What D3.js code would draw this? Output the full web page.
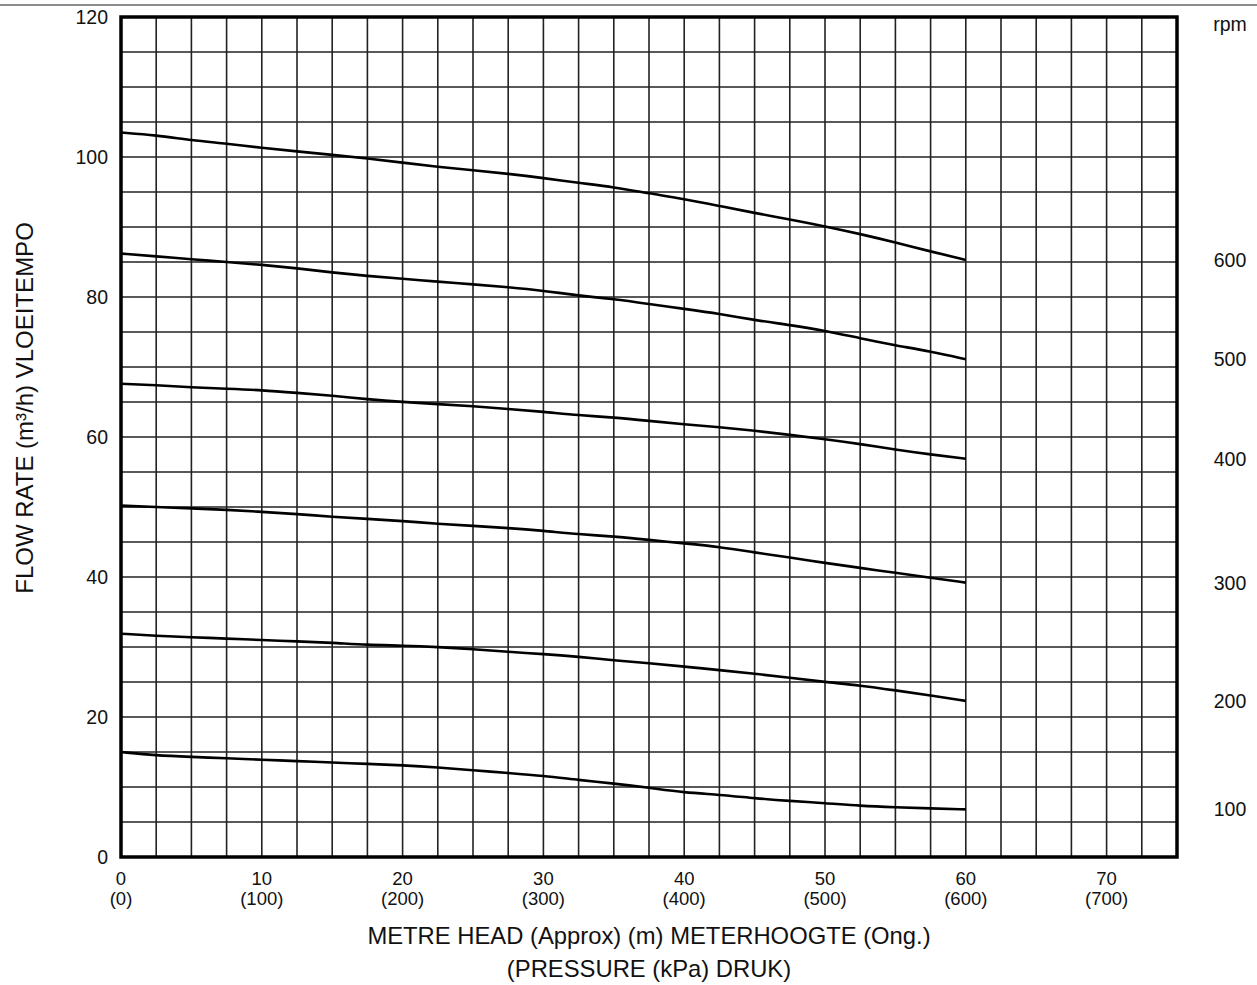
<!DOCTYPE html>
<html>
<head>
<meta charset="utf-8">
<script src="https://cdn.jsdelivr.net/npm/d3@7"></script>
<style>
    body { margin: 0; background: #fff; }
    text { font-family: "Liberation Sans", Arial, sans-serif; fill: #111; }
</style>
</head>
<body>
<div class="chart"></div>
<script>
// head in metres, sampled every 2.5 m
const head = [0, 2.5, 5, 7.5, 10, 12.5, 15, 17.5, 20, 22.5, 25, 27.5, 30,
    32.5, 35, 37.5, 40, 42.5, 45, 47.5, 50, 52.5, 55, 57.5, 60];

// flow rate (m3/h) per speed
const rpm600 = [103.5, 103.1, 102.4, 101.9, 101.3, 100.8, 100.3, 99.8, 99.2, 98.6, 98.1, 97.6, 97.0,
    96.3, 95.7, 94.8, 94.0, 93.0, 92.0, 91.1, 90.1, 89.0, 87.8, 86.5, 85.3];
const rpm500 = [86.2, 85.8, 85.4, 85.0, 84.6, 84.1, 83.5, 83.0, 82.6, 82.2, 81.8, 81.4, 80.9,
    80.2, 79.7, 79.0, 78.3, 77.6, 76.7, 76.0, 75.2, 74.1, 73.1, 72.2, 71.1];
const rpm400 = [67.6, 67.4, 67.1, 66.9, 66.7, 66.3, 65.9, 65.4, 65.0, 64.7, 64.4, 64.0, 63.6,
    63.1, 62.8, 62.3, 61.8, 61.4, 60.9, 60.3, 59.7, 59.0, 58.2, 57.5, 56.9];
const rpm300 = [50.2, 50.0, 49.8, 49.6, 49.3, 49.0, 48.6, 48.3, 48.0, 47.6, 47.3, 47.0, 46.6,
    46.1, 45.8, 45.3, 44.8, 44.3, 43.5, 42.8, 42.0, 41.3, 40.6, 39.9, 39.2];
const rpm200 = [31.9, 31.6, 31.4, 31.2, 31.0, 30.8, 30.6, 30.3, 30.2, 30.0, 29.7, 29.3, 29.0,
    28.6, 28.1, 27.7, 27.2, 26.7, 26.2, 25.6, 25.0, 24.5, 23.8, 23.1, 22.3];
const rpm100 = [15.0, 14.5, 14.3, 14.1, 13.9, 13.7, 13.5, 13.3, 13.1, 12.8, 12.4, 12.0, 11.6,
    11.0, 10.5, 9.9, 9.2, 8.9, 8.4, 8.0, 7.7, 7.3, 7.1, 6.95, 6.8];

const speedLabels = ['600', '500', '400', '300', '200', '100'];
const series = [rpm600, rpm500, rpm400, rpm300, rpm200, rpm100];

const headTicks = [0, 10, 20, 30, 40, 50, 60, 70];
const pressureTicks = ['(0)', '(100)', '(200)', '(300)', '(400)', '(500)', '(600)', '(700)'];
const flowTicks = [0, 20, 40, 60, 80, 100, 120];

const margin = { top: 17, right: 80, bottom: 128, left: 121 };
const fullWidth = 1257;
const fullHeight = 985;
const width = fullWidth - margin.left - margin.right;
const height = fullHeight - margin.top - margin.bottom;

const svg = d3.select('.chart')
    .append('svg')
        .attr('width', fullWidth)
        .attr('height', fullHeight);

// page rule along the top
svg.append('line')
    .attr('x1', 0).attr('x2', fullWidth)
    .attr('y1', 5).attr('y2', 5)
    .attr('stroke', '#666')
    .attr('stroke-width', 1.5);

const chart = svg.append('g')
    .attr('transform', `translate(${margin.left}, ${margin.top})`);

const xScale = d3.scaleLinear()
    .domain([0, 75])
    .range([0, width]);

const yScale = d3.scaleLinear()
    .domain([0, 120])
    .range([height, 0]);

// grid: every 2.5 m across, every 5 m3/h up
chart.append('g')
    .selectAll('line')
    .data(d3.range(2.5, 75, 2.5))
    .enter()
    .append('line')
        .attr('x1', d => xScale(d)).attr('x2', d => xScale(d))
        .attr('y1', 0).attr('y2', height)
        .attr('stroke', '#222')
        .attr('stroke-width', 1.6);

chart.append('g')
    .selectAll('line')
    .data(d3.range(5, 120, 5))
    .enter()
    .append('line')
        .attr('x1', 0).attr('x2', width)
        .attr('y1', d => yScale(d)).attr('y2', d => yScale(d))
        .attr('stroke', '#222')
        .attr('stroke-width', 1.6);

chart.append('rect')
    .attr('width', width)
    .attr('height', height)
    .attr('fill', 'none')
    .attr('stroke', '#000')
    .attr('stroke-width', 3.5);

// curves
const line = d3.line()
    .x((d, i) => xScale(head[i]))
    .y(d => yScale(d))
    .curve(d3.curveBasis);

chart.selectAll('path.curve')
    .data(series)
    .enter()
    .append('path')
        .attr('class', 'curve')
        .attr('d', line)
        .attr('fill', 'none')
        .attr('stroke', '#000')
        .attr('stroke-width', 2.6);

// left axis labels
chart.append('g')
    .selectAll('text')
    .data(flowTicks)
    .enter()
    .append('text')
        .attr('x', -13)
        .attr('y', d => yScale(d) + 7)
        .attr('text-anchor', 'end')
        .style('font-size', '19.5px')
        .text(d => d);

// bottom axis labels, two rows
const xLabels = chart.append('g')
    .attr('transform', `translate(0, ${height})`);

xLabels.selectAll('text.m')
    .data(headTicks)
    .enter()
    .append('text')
        .attr('class', 'm')
        .attr('x', d => xScale(d))
        .attr('y', 28)
        .attr('text-anchor', 'middle')
        .style('font-size', '18.5px')
        .text(d => d);

xLabels.selectAll('text.kpa')
    .data(headTicks)
    .enter()
    .append('text')
        .attr('class', 'kpa')
        .attr('x', d => xScale(d))
        .attr('y', 48)
        .attr('text-anchor', 'middle')
        .style('font-size', '18.5px')
        .text((d, i) => pressureTicks[i]);

// speed labels on the right, level with each curve end
chart.append('text')
    .attr('x', width + 53)
    .attr('y', 14)
    .attr('text-anchor', 'middle')
    .style('font-size', '19.5px')
    .text('rpm');

chart.append('g')
    .selectAll('text')
    .data(series)
    .enter()
    .append('text')
        .attr('x', width + 53)
        .attr('y', d => yScale(d[d.length - 1]) + 7)
        .attr('text-anchor', 'middle')
        .style('font-size', '19.5px')
        .text((d, i) => speedLabels[i]);

// axis titles
svg.append('text')
    .attr('x', 649)
    .attr('y', 944)
    .attr('text-anchor', 'middle')
    .style('font-size', '23.8px')
    .text('METRE HEAD (Approx) (m) METERHOOGTE (Ong.)');

svg.append('text')
    .attr('x', 649)
    .attr('y', 977)
    .attr('text-anchor', 'middle')
    .style('font-size', '23.8px')
    .text('(PRESSURE (kPa) DRUK)');

svg.append('text')
    .attr('transform', 'translate(33, 408) rotate(-90)')
    .attr('text-anchor', 'middle')
    .style('font-size', '24px')
    .text('FLOW RATE (m³/h) VLOEITEMPO');
</script>
</body>
</html>
